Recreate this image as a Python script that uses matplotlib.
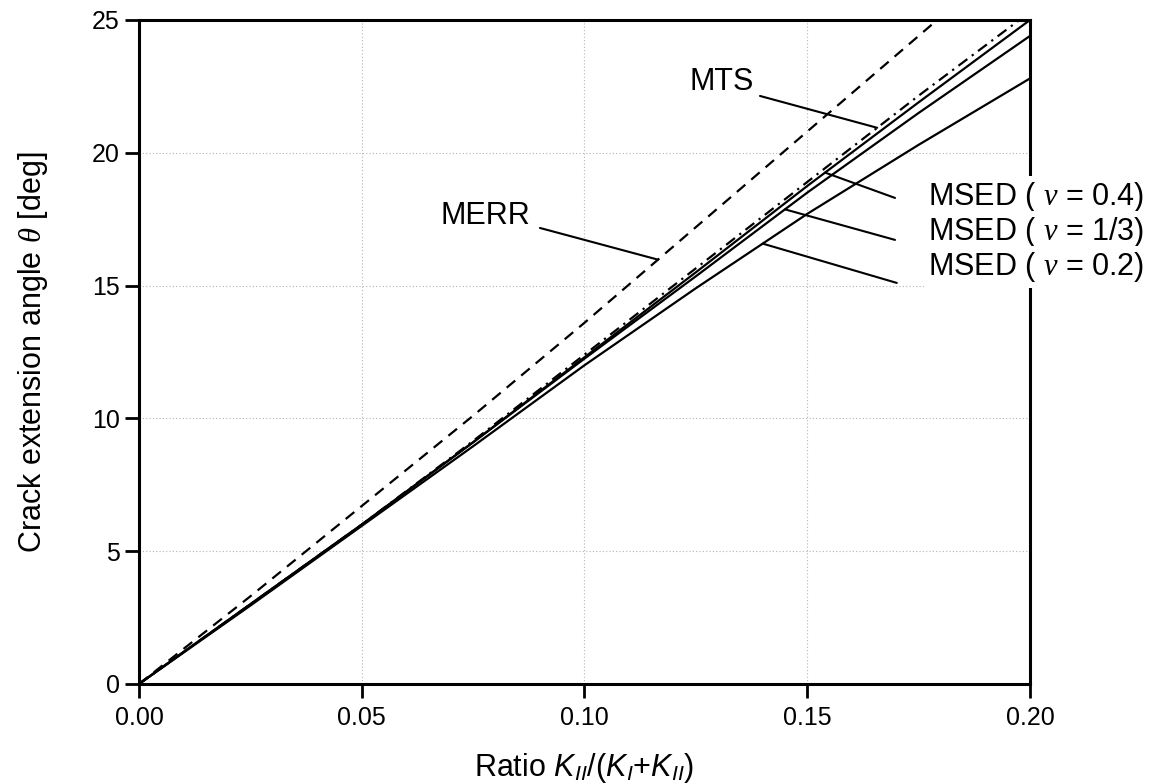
import numpy as np
import matplotlib
matplotlib.use('Agg')
import matplotlib.pyplot as plt

# Fonts: Arial-like text, serif italic greek, sans italic K symbols
plt.rcParams['font.family'] = ['Liberation Sans', 'DejaVu Sans']
plt.rcParams['mathtext.fontset'] = 'custom'
plt.rcParams['mathtext.rm'] = 'Liberation Sans'
plt.rcParams['mathtext.it'] = 'Liberation Serif:italic'
plt.rcParams['mathtext.sf'] = 'Liberation Sans:italic'

# Crack extension angle vs mode ratio K_II/(K_I+K_II)
ratio = [0.0, 0.025, 0.05, 0.075, 0.10, 0.125, 0.15, 0.175, 0.20]
merr = [0.0, 3.3, 6.7, 10.1, 13.6, 17.2, 20.8, 24.4, 28.0]
mts = [0.0, 3.0, 6.0, 9.15, 12.4, 15.65, 18.9, 22.15, 25.3]
msed_04 = [0.0, 3.0, 6.0, 9.1, 12.3, 15.5, 18.75, 21.9, 25.0]
msed_13 = [0.0, 3.0, 6.0, 9.1, 12.25, 15.35, 18.5, 21.5, 24.4]
msed_02 = [0.0, 2.95, 5.95, 8.95, 12.0, 14.9, 17.7, 20.3, 22.8]

xticks = [0.00, 0.05, 0.10, 0.15, 0.20]
yticks = [0, 5, 10, 15, 20, 25]

fig = plt.figure(figsize=(11.59, 7.84), dpi=100)
ax = fig.add_axes([0.1199, 0.1276, 0.7688, 0.8469])

lw = 1.6
ax.plot(ratio, merr, color='black', lw=lw, linestyle=(0, (5, 3.5)))
ax.plot(ratio, mts, color='black', lw=lw, linestyle=(0, (5, 2.5, 1, 2.5)))
ax.plot(ratio, msed_04, color='black', lw=lw)
ax.plot(ratio, msed_13, color='black', lw=lw)
ax.plot(ratio, msed_02, color='black', lw=lw)

ax.set_xlim(0, 0.2)
ax.set_ylim(0, 25)
ax.set_xticks(xticks)
ax.set_xticklabels(['%.2f' % t for t in xticks])
ax.set_yticks(yticks)
ax.grid(True, color='#b4b4b4', linestyle=(0, (1, 2)), lw=0.8)
ax.set_axisbelow(True)

for s in ax.spines.values():
    s.set_linewidth(2.2)
ax.tick_params(direction='out', length=10, width=2, labelsize=18)
ax.tick_params(axis='x', pad=6)
ax.tick_params(axis='y', pad=4)

ax.set_xlabel(r'Ratio $\mathsf{K}_{\mathsf{II}}$/($\mathsf{K}_{\mathsf{I}}$+$\mathsf{K}_{\mathsf{II}}$)',
              fontsize=22, labelpad=15)
ax.set_ylabel(r'Crack extension angle $\theta$ [deg]', fontsize=22, labelpad=30)

# leader lines from labels to curves
def leader(series, x_end, start):
    y_end = np.interp(x_end, ratio, series)
    ax.annotate('', xy=(x_end, y_end), xytext=start, annotation_clip=False,
                arrowprops=dict(arrowstyle='-', lw=1.5, color='black',
                                shrinkA=0, shrinkB=0))

ax.text(0.1309, 22.67, 'MTS', fontsize=22, ha='center', va='center')
leader(mts, 0.1657, (0.1394, 22.14))

ax.text(0.0777, 17.62, 'MERR', fontsize=22, ha='center', va='center')
leader(merr, 0.1165, (0.0900, 17.17))

box = dict(facecolor='white', edgecolor='none', pad=3)
ax.text(0.1771, 18.34, r'MSED ( $\nu$ = 0.4)', fontsize=22, ha='left', va='center',
        bbox=box, clip_on=False)
ax.text(0.1771, 17.02, r'MSED ( $\nu$ = 1/3)', fontsize=22, ha='left', va='center',
        bbox=box, clip_on=False)
ax.text(0.1771, 15.70, r'MSED ( $\nu$ = 0.2)', fontsize=22, ha='left', va='center',
        bbox=box, clip_on=False)
leader(msed_04, 0.154, (0.1697, 18.30))
leader(msed_13, 0.145, (0.1697, 16.72))
leader(msed_02, 0.140, (0.1701, 15.10))

fig.savefig('out.png', dpi=100)
